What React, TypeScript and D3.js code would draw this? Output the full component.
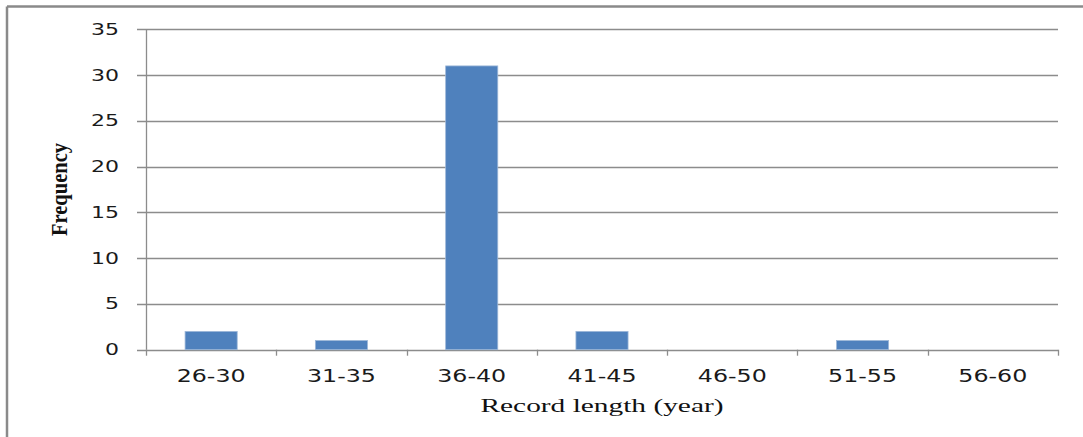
import React from "react";
import * as d3 from "d3";

const categories = ["26-30", "31-35", "36-40", "41-45", "46-50", "51-55", "56-60"];
const frequency = [2, 1, 31, 2, 0, 1, 0];
const yTicks = [0, 5, 10, 15, 20, 25, 30, 35];
const xTitle = "Record length (year)";
const yTitle = "Frequency";

export default function App() {
  const W = 1083, H = 437;
  const left = 146, right = 1058, top = 29.3, bottom = 349.7;
  const x = d3.scaleBand<string>().domain(categories).range([left, right]).paddingInner(0).paddingOuter(0);
  const y = d3.scaleLinear().domain([0, 35]).range([bottom, top]);
  const bw = x.bandwidth() / 2.5;
  const grid = "#8c8c8c";
  const boundaries = d3.range(categories.length + 1).map((i) => left + i * x.step());

  return (
    <div style={{ position: "absolute", left: 0, top: 0 }}>
      <svg width={W} height={H} style={{ display: "block", background: "#fff" }}>
        <rect x={0} y={0} width={W} height={H} fill="#fff" />
        {/* frame */}
        <line x1={7} y1={6.5} x2={W} y2={6.5} stroke="#8a8a8a" strokeWidth={2.5} />
        <line x1={7} y1={6.5} x2={7} y2={H} stroke="#8a8a8a" strokeWidth={2.5} />
        {/* gridlines + y ticks */}
        {yTicks.map((t) => (
          <g key={t}>
            <line x1={137} x2={right} y1={Math.round(y(t)) + 0.5} y2={Math.round(y(t)) + 0.5} stroke={grid} strokeWidth={1.3} />
            <text
              x={119}
              y={y(t)}
              textAnchor="end"
              dominantBaseline="central"
              fontFamily="DejaVu Sans"
              fontSize={16}
              fill="#1a1a1a"
              textLength={String(t).length * 14}
              lengthAdjust="spacingAndGlyphs"
            >
              {t}
            </text>
          </g>
        ))}
        {/* y axis */}
        <line x1={left + 0.5} x2={left + 0.5} y1={top} y2={bottom} stroke={grid} strokeWidth={1.3} />
        {/* x axis ticks */}
        {boundaries.map((bx, i) => (
          <line key={i} x1={Math.round(bx) + 0.5} x2={Math.round(bx) + 0.5} y1={bottom} y2={bottom + 6} stroke={grid} strokeWidth={1.3} />
        ))}
        {/* bars */}
        {categories.map((c, i) => {
          const cx = (x(c) as number) + x.bandwidth() / 2;
          const v = frequency[i];
          if (v <= 0) return null;
          return (
            <rect
              key={c}
              x={cx - bw / 2}
              y={y(v)}
              width={bw}
              height={y(0) - y(v)}
              fill="#4f81bd"
              stroke="#9db7d8"
              strokeWidth={0.8}
            />
          );
        })}
        {/* x labels */}
        {categories.map((c) => (
          <text
            key={c}
            x={(x(c) as number) + x.bandwidth() / 2}
            y={382}
            textAnchor="middle"
            fontFamily="DejaVu Sans"
            fontSize={17}
            fill="#1a1a1a"
            textLength={69}
            lengthAdjust="spacingAndGlyphs"
          >
            {c}
          </text>
        ))}
        {/* titles */}
        <text
          x={(left + right) / 2}
          y={412}
          textAnchor="middle"
          fontFamily="Liberation Serif"
          fontSize={19}
          fill="#111"
          textLength={243}
          lengthAdjust="spacingAndGlyphs"
        >
          {xTitle}
        </text>
        <text
          transform={`translate(67, ${(143 + 236) / 2}) rotate(-90)`}
          textAnchor="middle"
          fontFamily="Liberation Serif"
          fontWeight="bold"
          fontSize={23}
          fill="#111"
          textLength={93}
          lengthAdjust="spacingAndGlyphs"
        >
          {yTitle}
        </text>
      </svg>
    </div>
  );
}
